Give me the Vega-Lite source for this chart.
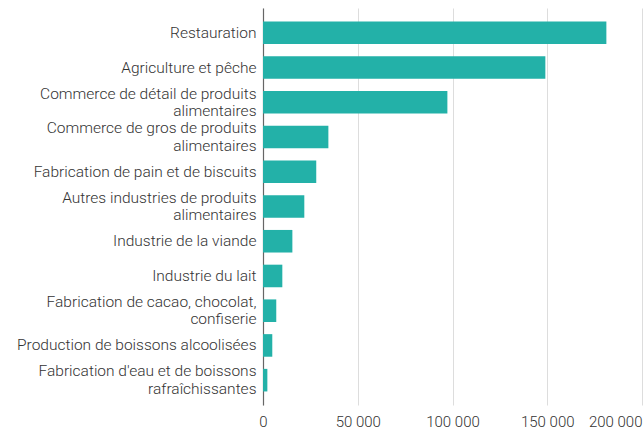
{
  "$schema": "https://vega.github.io/schema/vega-lite/v6.json",
  "width": 379,
  "height": 397,
  "autosize": {"type": "none"},
  "padding": {"left": 263, "top": 8, "right": 1, "bottom": 24},
  "background": "white",
  "config": {"view": {"stroke": null}, "font": "Roboto"},
  "data": {
    "values": [
      {"secteur": "Restauration", "valeur": 181200},
      {"secteur": "Agriculture et pêche", "valeur": 149000},
      {"secteur": "Commerce de détail de produits alimentaires", "valeur": 97300},
      {"secteur": "Commerce de gros de produits alimentaires", "valeur": 34500},
      {"secteur": "Fabrication de pain et de biscuits", "valeur": 28100},
      {"secteur": "Autres industries de produits alimentaires", "valeur": 21800},
      {"secteur": "Industrie de la viande", "valeur": 15500},
      {"secteur": "Industrie du lait", "valeur": 10200},
      {"secteur": "Fabrication de cacao, chocolat, confiserie", "valeur": 7000},
      {"secteur": "Production de boissons alcoolisées", "valeur": 4900},
      {"secteur": "Fabrication d'eau et de boissons rafraîchissantes", "valeur": 2300}
    ]
  },
  "mark": {"type": "bar", "color": "#23b1a8"},
  "encoding": {
    "y": {
      "field": "secteur",
      "type": "nominal",
      "sort": null,
      "title": null,
      "scale": {"paddingInner": 0.35, "paddingOuter": 0.39},
      "axis": {
        "domain": true,
        "domainColor": "#666666",
        "domainWidth": 1.2,
        "ticks": false,
        "grid": false,
        "labelPadding": 7,
        "labelFont": "Roboto",
        "labelFontWeight": 300,
        "labelFontSize": 15.5,
        "labelColor": "#333333",
        "labelLimit": 300,
        "labelLineHeight": 17.5,
        "labelOffset": {"condition": {"test": "length(datum.value) > 36", "value": -8.75}, "value": 0},
        "labelExpr": "length(datum.label) > 36 ? [substring(datum.label, 0, lastindexof(datum.label, ' ')), substring(datum.label, lastindexof(datum.label, ' ') + 1)] : datum.label"
      }
    },
    "x": {
      "field": "valeur",
      "type": "quantitative",
      "title": null,
      "scale": {"domain": [0, 200000], "nice": false},
      "axis": {
        "values": [0, 50000, 100000, 150000, 200000],
        "domain": false,
        "ticks": false,
        "grid": true,
        "gridColor": "#dddddd",
        "gridWidth": 1,
        "labelPadding": 9,
        "labelFont": "Roboto",
        "labelFontWeight": 300,
        "labelFontSize": 15,
        "labelColor": "#333333",
        "labelFlush": false,
        "labelAlign": {"condition": {"test": "datum.value >= 200000", "value": "right"}, "value": "center"},
        "labelExpr": "replace(format(datum.value, ','), ',', ' ')"
      }
    }
  }
}
